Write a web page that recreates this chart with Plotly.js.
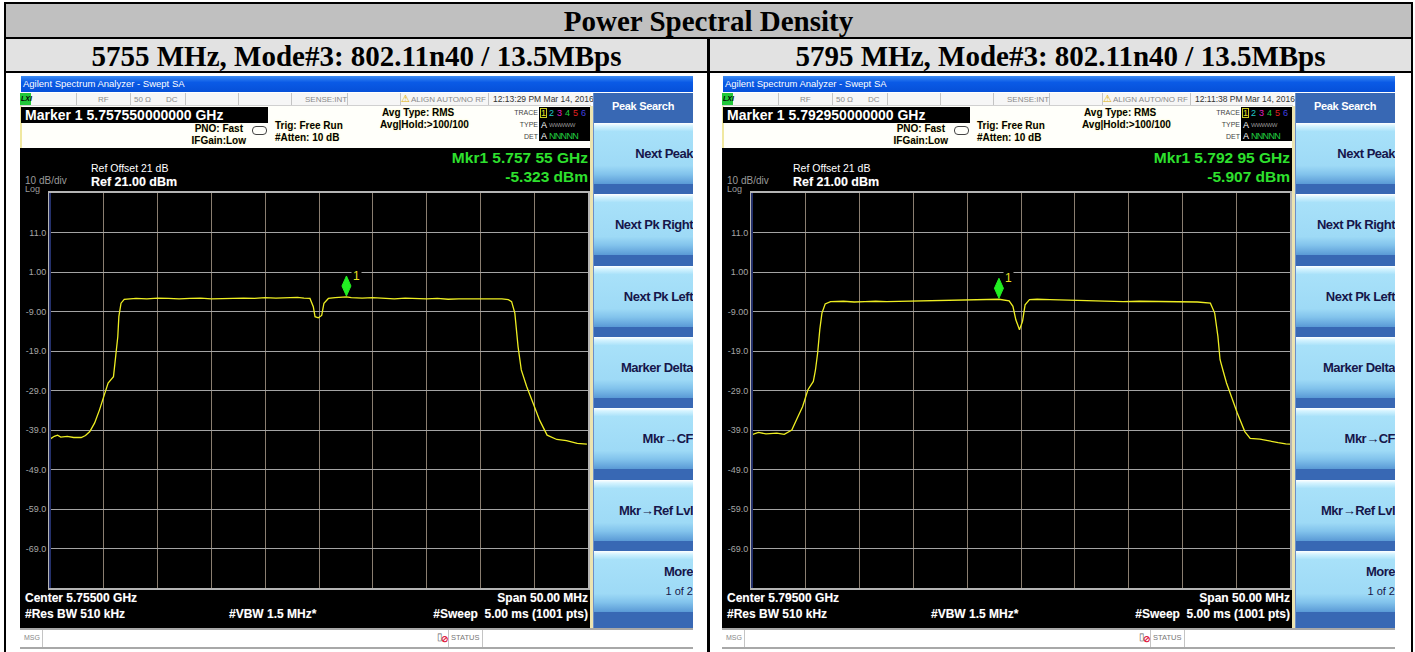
<!DOCTYPE html>
<html>
<head>
<meta charset="utf-8">
<script src="https://cdn.plot.ly/plotly-3.0.1.min.js"></script>
<style>
  body { margin: 0; width: 1415px; height: 652px; overflow: hidden; background: #fff; position: relative; font-family: Arial, "Liberation Sans", sans-serif; }
  .a { position: absolute; white-space: nowrap; }
  .serif { font-family: "Liberation Serif", "Times New Roman", serif; font-weight: bold; color: #000; text-align: center; }
  .sep { position: absolute; width: 1px; background: #c4c4c4; }
  .key { position: absolute; height: 61px; overflow: hidden;
         background: linear-gradient(to bottom, #ffffff 0%, #d4f3ff 5%, #a8e1f9 14%, #9edaf6 70%, #82c3ec 84%, #5a9ad6 100%); }
  .keytxt { position: absolute; right: 0px; font-weight: bold; font-size: 13px; color: #16164a; letter-spacing: -0.5px; white-space: nowrap; }
  .plot { position: absolute; }
  .wt { color: #fff; font-weight: bold; font-size: 12px; text-shadow: 0 0 1px #555; }
  .gr { color: #2ee02e; font-weight: bold; font-size: 15.5px; }
  .hd { color: #000; font-weight: bold; font-size: 10px; text-shadow: 0 0 2px #fff6a0; }
  .st { color: #8a8a8a; font-size: 8px; }
</style>
</head>
<body>
<div id="page"></div>
<script>
// ---- data ----
const pageTitle = 'Power Spectral Density';
const panelTitles = ['5755 MHz, Mode#3: 802.11n40 / 13.5MBps', '5795 MHz, Mode#3: 802.11n40 / 13.5MBps'];
const centerMHz = [5755, 5795];
const spanMHz = 50;
const refLevelDbm = 21;
const dbPerDiv = 10;
const yTickVals = [11, 1, -9, -19, -29, -39, -49, -59, -69];
const yTickText = ['11.0', '1.00', '-9.00', '-19.0', '-29.0', '-39.0', '-49.0', '-59.0', '-69.0'];

// 5755 MHz trace: offset from centre (MHz) and level (dBm)
const leftOffsetMHz = [-25, -24.6, -24.3, -24.0, -23.4, -22.8, -22.1, -21.7, -21.3, -20.85,
  -20.4, -20.1, -19.6, -19.1, -18.9, -18.7, -18.6, -18.4, -18.1, -17.7,
  -17.0, -16.0, -15.0, -14.0, -13.0, -12.0, -11.0, -10.0, -9.0, -8.0,
  -7.0, -6.0, -5.0, -4.0, -3.0, -2.0, -1.4, -0.84, -0.53, -0.37,
  -0.06, 0.25, 0.46, 0.87, 1.5, 2.0, 2.55, 3.0, 4.0, 5.0,
  6.0, 7.0, 8.0, 9.0, 10.0, 11.0, 12.0, 13.0, 14.0, 15.0,
  16.0, 17.0, 17.6, 17.9, 18.2, 18.5, 18.8, 19.3, 19.9, 20.5,
  21.2, 22.1, 23.0, 24.0, 24.9];
const leftLevelDbm = [-41.3, -40.6, -40.3, -40.8, -40.6, -40.9, -40.9, -40.4, -39.4, -37.2,
  -33.9, -31.4, -27.1, -25.5, -20.4, -15.4, -10.3, -6.9, -5.9, -5.8,
  -5.7, -5.8, -5.6, -5.7, -5.8, -5.7, -5.6, -5.8, -5.7, -5.7,
  -5.6, -5.7, -5.5, -5.6, -5.5, -5.4, -5.6, -5.7, -7.8, -10.3,
  -10.6, -10.0, -6.9, -5.7, -5.5, -5.4, -5.3, -5.5, -5.6, -5.5,
  -5.7, -5.8, -5.6, -5.7, -5.8, -5.7, -5.9, -5.8, -5.8, -5.7,
  -5.8, -5.8, -6.0, -6.5, -9.4, -17.9, -23.8, -28.0, -32.2, -36.5,
  -40.3, -41.4, -41.7, -42.4, -42.6];

// 5795 MHz trace
const rightOffsetMHz = [-25.0, -24.4, -23.7, -22.7, -22.0, -21.3, -20.8, -20.3, -19.8, -19.3,
  -19.1, -18.9, -18.7, -18.5, -18.2, -17.7, -16.5, -15.5, -14.5, -13.5,
  -12.5, -11.0, -10.0, -9.0, -7.6, -6.5, -5.5, -4.2, -3.0, -2.05,
  -1.1, -0.75, -0.48, -0.14, 0.14, 0.38, 0.79, 1.5, 2.7, 4.0,
  5.0, 6.1, 7.5, 8.5, 9.5, 11.0, 12.9, 14.5, 15.5, 16.4,
  17.6, 18.0, 18.3, 18.5, 18.8, 19.1, 19.6, 20.1, 20.8, 21.3,
  22.2, 23.2, 23.9, 24.6, 25.0];
const rightLevelDbm = [-40.2, -39.6, -40.0, -39.8, -40.1, -39.0, -36.0, -33.1, -28.8, -26.7,
  -23.8, -19.5, -13.6, -9.4, -7.1, -6.5, -6.4, -6.6, -6.5, -6.4,
  -6.5, -6.4, -6.3, -6.4, -6.3, -6.2, -6.1, -6.0, -6.0, -5.9,
  -6.3, -7.7, -11.1, -13.6, -11.5, -7.3, -6.0, -5.9, -6.0, -6.1,
  -6.2, -6.3, -6.4, -6.3, -6.5, -6.4, -6.5, -6.5, -6.6, -6.6,
  -6.9, -9.4, -15.3, -21.2, -24.2, -27.1, -30.9, -34.7, -39.4, -41.1,
  -41.3, -41.9, -42.2, -42.5, -42.6];

const markerMHz = [5757.55, 5792.95];
const markerDbm = [-5.323, -5.907];
const markerHeader = ['Marker 1 5.757550000000 GHz', 'Marker 1 5.792950000000 GHz'];
const mkrFreqText = ['Mkr1 5.757 55 GHz', 'Mkr1 5.792 95 GHz'];
const mkrLevelText = ['-5.323 dBm', '-5.907 dBm'];
const centerText = ['Center 5.75500 GHz', 'Center 5.79500 GHz'];
const clockText = ['12:13:29 PM Mar 14, 2016', '12:11:38 PM Mar 14, 2016'];
const softKeys = ['Next Peak', 'Next Pk Right', 'Next Pk Left', 'Marker Delta', 'Mkr\u2192CF', 'Mkr\u2192Ref Lvl', 'More'];

// ---- page frame ----
const page = document.getElementById('page');
let html = '';
function box(x, y, w, h, style) { return `<div class="a" style="left:${x}px;top:${y}px;width:${w}px;height:${h}px;${style || ''}"></div>`; }
function txt(x, y, t, cls, style) { return `<div class="a ${cls || ''}" style="left:${x}px;top:${y}px;${style || ''}">${t}</div>`; }
function rtxt(xr, y, t, cls, style) { return `<div class="a ${cls || ''}" style="right:${1415 - xr}px;top:${y}px;${style || ''}">${t}</div>`; }

html += box(4, 2, 1409, 660, 'border:2px solid #000;box-sizing:border-box;');
html += box(6, 4, 1405, 33, 'background:#c0c0c0;');
html += box(6, 37, 1405, 2, 'background:#000;');
html += box(6, 39, 1405, 32, 'background:#e2e2e2;');
html += box(6, 71, 1405, 2, 'background:#000;');
html += box(707, 39, 3, 620, 'background:#000;');
html += `<div class="a serif" style="left:6px;top:4px;width:1405px;height:33px;line-height:34px;font-size:29px;">${pageTitle}</div>`;
html += `<div class="a serif" style="left:6px;top:39px;width:701px;height:32px;line-height:34px;font-size:29px;">${panelTitles[0]}</div>`;
html += `<div class="a serif" style="left:710px;top:39px;width:701px;height:32px;line-height:34px;font-size:29px;">${panelTitles[1]}</div>`;

function analyzer(i, ox) {
  const X = r => ox + r;
  let h = '';
  // window title bar
  h += box(X(1), 76, 672, 16, 'background:linear-gradient(to bottom,#3c8cf4 0%,#0a5ae6 40%,#0650d8 100%);');
  h += txt(X(3), 77, 'Agilent Spectrum Analyzer - Swept SA', '', 'color:#fff;font-size:9.5px;line-height:14px;');
  // status row
  h += box(X(0), 93, 571, 13, 'background:#f6f6f6;border-bottom:1px solid #d0d0d0;box-sizing:border-box;');
  h += box(X(0), 93, 11, 12, 'background:#22c83a;');
  h += txt(X(1), 93, 'LXI', '', 'font-size:7px;font-weight:bold;font-style:italic;color:#000;line-height:12px;');
  [56, 110, 165, 218, 271, 327, 380, 468].forEach(s => { h += `<div class="sep" style="left:${X(s)}px;top:93px;height:12px;"></div>`; });
  h += txt(X(78), 94, 'RF', 'st', 'line-height:11px;');
  h += txt(X(114), 94, '50 \u03a9', 'st', 'line-height:11px;');
  h += txt(X(146), 94, 'DC', 'st', 'line-height:11px;');
  h += txt(X(285), 94, 'SENSE:INT', 'st', 'line-height:11px;');
  h += txt(X(381), 93, '\u26a0', '', 'font-size:10px;color:#e0b000;line-height:12px;');
  h += txt(X(391), 94, 'ALIGN AUTO/NO RF', 'st', 'line-height:11px;');
  h += txt(X(473), 94, clockText[i], '', 'font-size:8.5px;color:#333;line-height:11px;');
  // marker header
  h += box(X(0), 106, 571, 42, 'background:#fffffa;border-left:2px solid #f0e8a0;box-sizing:border-box;');
  h += box(X(1), 107, 247, 16, 'background:#000;');
  h += txt(X(5), 107, markerHeader[i], '', 'color:#fff;font-weight:bold;font-size:14px;line-height:16px;');
  h += rtxt(X(223), 123, 'PNO: Fast', 'hd', 'line-height:12px;');
  h += rtxt(X(226), 135, 'IFGain:Low', 'hd', 'line-height:12px;');
  h += box(X(232), 126, 13, 7, 'border:1px solid #444;border-radius:4px;');
  h += txt(X(255), 120, 'Trig: Free Run', 'hd', 'line-height:12px;');
  h += txt(X(255), 132, '#Atten: 10 dB', 'hd', 'line-height:12px;');
  h += txt(X(362), 107, 'Avg Type: RMS', 'hd', 'line-height:12px;');
  h += txt(X(360), 119, 'Avg|Hold:&gt;100/100', 'hd', 'line-height:12px;');
  h += rtxt(X(518), 108, 'TRACE', '', 'font-size:7px;color:#444;line-height:9px;');
  h += rtxt(X(518), 120, 'TYPE', '', 'font-size:7px;color:#444;line-height:9px;');
  h += rtxt(X(518), 132, 'DET', '', 'font-size:7px;color:#444;line-height:9px;');
  h += box(X(519), 107, 51, 34, 'background:#000;');
  h += box(X(520), 108, 7, 10, 'border:1px solid #c8c820;box-sizing:border-box;');
  const tc = ['#e8e020', '#20c8c8', '#e020c0', '#20d040', '#e02020', '#4040e0'];
  tc.forEach((c, k) => { h += txt(X(521 + k * 8), 107, String(k + 1), '', `font-size:9px;color:${c};line-height:12px;`); });
  h += txt(X(521), 119, 'A', '', 'font-size:9px;color:#fff;line-height:12px;');
  h += txt(X(529), 119, 'WWWWW', '', 'font-size:6px;color:#999;line-height:12px;letter-spacing:-0.5px;');
  h += txt(X(521), 130, 'A', '', 'font-size:9px;color:#fff;line-height:12px;');
  h += txt(X(529), 130, 'N N N N N', '', 'font-size:9px;color:#20d040;line-height:12px;letter-spacing:-1.6px;');
  // black display area (behind plot)
  h += box(X(0), 148, 570, 480, 'background:#000;');
  h += box(X(570), 106, 3, 522, 'background:#ece4b0;');
  // soft keys
  h += box(X(573), 93, 100, 535, 'background:#3868b4;border-left:1px solid #6d8fc8;box-sizing:border-box;');
  h += `<div class="a" style="left:${X(573)}px;top:100px;width:100px;text-align:center;color:#fff;font-weight:bold;font-size:11px;letter-spacing:-0.3px;">Peak Search</div>`;
  softKeys.forEach((k, j) => {
    const top = Math.round(123 + j * 71.3);
    h += `<div class="key" style="left:${X(574)}px;top:${top}px;width:99px;">` +
      (j < 6 ? `<div class="keytxt" style="top:23px;">${k}</div>`
             : `<div class="keytxt" style="top:13px;">${k}</div><div class="keytxt" style="top:34px;font-weight:normal;font-size:11px;letter-spacing:0;">1 of 2</div>`) +
      '</div>';
  });
  // message bar
  h += box(X(0), 628, 673, 21, 'background:#fff;border-top:2px solid #a8a8a8;border-bottom:2px solid #a8a8a8;box-sizing:border-box;');
  h += txt(X(4), 634, 'MSG', '', 'font-size:7px;color:#888;');
  h += `<div class="sep" style="left:${X(22)}px;top:630px;height:17px;"></div>`;
  h += `<div class="sep" style="left:${X(428)}px;top:630px;height:17px;"></div>`;
  h += `<div class="sep" style="left:${X(462)}px;top:630px;height:17px;"></div>`;
  h += txt(X(417), 631, '\u25AF', '', 'font-size:10px;color:#666;');
  h += txt(X(421), 634, '\u2298', '', 'font-size:9px;color:#e02040;font-weight:bold;');
  h += txt(X(431), 633, 'STATUS', '', 'font-size:7.5px;color:#777;');
  // plot container
  h += `<div class="plot" id="plot${i}" style="left:${X(0)}px;top:148px;width:570px;height:479px;"></div>`;
  // on-screen texts above the plot
  h += txt(X(71), 162, 'Ref Offset 21 dB', '', 'color:#fff;font-size:10.5px;z-index:5;');
  h += txt(X(71), 175, 'Ref 21.00 dBm', 'wt', 'font-size:12.5px;z-index:5;');
  h += txt(X(5), 175, '10 dB/div', '', 'color:#9a9a9a;font-size:10px;z-index:5;');
  h += txt(X(5), 185, 'Log', '', 'color:#9a9a9a;font-size:9px;line-height:9px;z-index:5;');
  h += rtxt(X(568), 149, mkrFreqText[i], 'gr', 'z-index:5;');
  h += rtxt(X(568), 168, mkrLevelText[i], 'gr', 'z-index:5;');
  h += txt(X(5), 591, centerText[i], 'wt', 'z-index:5;');
  h += txt(X(5), 607, '#Res BW 510 kHz', 'wt', 'z-index:5;');
  h += txt(X(209), 607, '#VBW 1.5 MHz*', 'wt', 'z-index:5;');
  h += rtxt(X(568), 591, 'Span 50.00 MHz', 'wt', 'z-index:5;');
  h += rtxt(X(568), 607, '#Sweep&nbsp;&nbsp;5.00 ms (1001 pts)', 'wt', 'z-index:5;');
  return h;
}
html += analyzer(0, 20);
html += analyzer(1, 722);
page.innerHTML = html;

// ---- spectrum plots ----
function drawSpectrum(i, offsets, levels) {
  const c = centerMHz[i];
  const trace = {
    x: offsets.map(o => c + o),
    y: levels,
    type: 'scatter',
    mode: 'lines',
    line: { color: '#eeee22', width: 1.3 },
    hoverinfo: 'skip'
  };
  const layout = {
    width: 570, height: 479,
    margin: { l: 30, r: 2, t: 45, b: 39 },
    paper_bgcolor: 'rgba(0,0,0,0)', plot_bgcolor: '#000',
    showlegend: false,
    xaxis: {
      range: [c - spanMHz / 2, c + spanMHz / 2], tick0: c, dtick: spanMHz / 10,
      showgrid: true, gridcolor: '#8a7e70', gridwidth: 1, zeroline: false,
      showticklabels: false, ticks: '', showline: true, mirror: true, linecolor: '#b4b4b4', linewidth: 2
    },
    yaxis: {
      range: [refLevelDbm - 10 * dbPerDiv, refLevelDbm],
      tickvals: yTickVals, ticktext: yTickText,
      showgrid: true, gridcolor: '#a4a4a4', gridwidth: 1, zeroline: false,
      ticks: '', showline: true, mirror: true, linecolor: '#b4b4b4', linewidth: 2,
      tickfont: { family: 'Arial', size: 9, color: '#a6a6a6' }
    },
    shapes: [
      { type: 'line', xref: 'paper', yref: 'paper', x0: 0, x1: 0, y0: 0, y1: 1, line: { color: '#24306a', width: 2 } },
      { type: 'path', xref: 'x', yref: 'y', xsizemode: 'pixel', ysizemode: 'pixel',
        xanchor: markerMHz[i], yanchor: markerDbm[i],
        path: 'M 0 1 L 4.5 11 L 0 21 L -4.5 11 Z', fillcolor: '#22ee22', line: { color: '#22ee22', width: 1 } }
    ],
    annotations: [
      { x: markerMHz[i], y: markerDbm[i], xref: 'x', yref: 'y', text: '1', showarrow: false,
        xshift: 10, yshift: 21, font: { family: 'Arial', size: 12, color: '#e8e020' }, bgcolor: '#000', borderpad: 1 }
    ]
  };
  Plotly.newPlot('plot' + i, [trace], layout, { displayModeBar: false, staticPlot: true });
}

drawSpectrum(0, leftOffsetMHz, leftLevelDbm);
drawSpectrum(1, rightOffsetMHz, rightLevelDbm);
</script>
</body>
</html>
